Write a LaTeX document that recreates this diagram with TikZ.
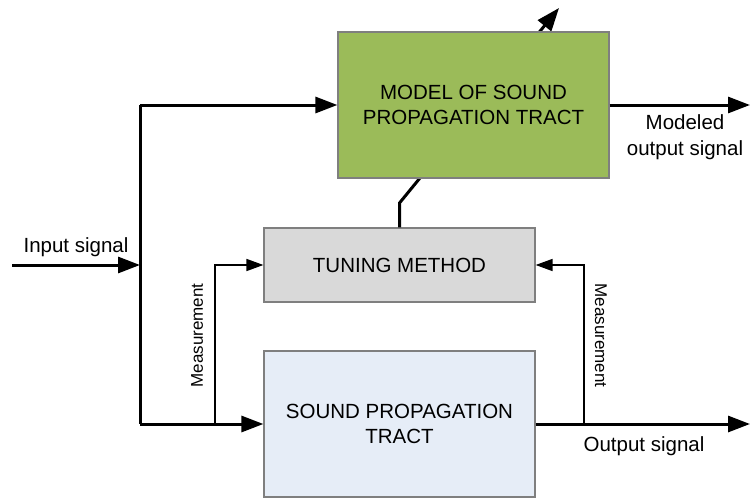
\documentclass[tikz,border=0pt]{standalone}
\usepackage{fontspec}
\setmainfont{Liberation Sans}
\usetikzlibrary{arrows.meta}
\definecolor{modelgreen}{HTML}{9BBB59}
\definecolor{tunegrey}{HTML}{D9D9D9}
\definecolor{soundblue}{HTML}{E6EDF7}
\definecolor{boxborder}{HTML}{7F7F7F}
\tikzset{
  blockbox/.style={draw=boxborder, line width=1.2pt, minimum width=271pt, inner sep=0pt, align=center, font=\fontsize{20.5}{25}\selectfont},
  bigline/.style={line width=3pt},
  bigarrow/.style={line width=3pt, -{Triangle[length=22pt,width=16pt]}},
  smallarrow/.style={line width=1.6pt, -{Triangle[length=17pt,width=12pt]}},
  smallline/.style={line width=1.6pt},
  lbl/.style={inner sep=0pt, align=center, font=\fontsize{20.5}{26}\selectfont},
  measlbl/.style={inner sep=0pt, font=\fontsize{17}{20}\selectfont},
}
\begin{document}
\begin{tikzpicture}[x=1pt,y=-1pt]
\useasboundingbox (0,0) rectangle (750,498);
% tuning box
\node[blockbox, fill=tunegrey, minimum height=74pt] (tuning) at (399.5,265) {TUNING METHOD};
% adjustment line (behind model box)
\coordinate (bend) at (399.5,203);
\coordinate (adjtip) at (559,8);
\draw[bigline, -{Triangle[length=23pt,width=17pt]}] (tuning.north) -- (bend) -- (adjtip);
% model box
\node[blockbox, fill=modelgreen, minimum height=146pt] (model) at (473.5,105) {MODEL OF SOUND\\PROPAGATION TRACT};
% sound propagation tract
\node[blockbox, fill=soundblue, minimum height=146pt] (sound) at (399.5,424) {SOUND PROPAGATION\\TRACT};
% coordinates
\coordinate (in) at (12,265);
\coordinate (jin) at (140,265);
\coordinate (jtop) at (140,105);
\coordinate (jbot) at (140,424);
\coordinate (mleft) at (215,424);
\coordinate (mright) at (584,424);
\coordinate (outend) at (750,424);
\coordinate (modend) at (750,105);
% connectors
\draw[bigarrow] (in) -- (jin);
\draw[bigline] (jtop) -- (jbot);
\draw[bigarrow] (jtop) -- (model.west);
\draw[bigarrow] (jbot) -- (sound.west);
\draw[bigarrow] (model.east) -- (modend);
\draw[bigarrow] (sound.east) -- (outend);
\draw[smallarrow] (mleft) |- (tuning.west);
\draw[smallarrow] (mright) |- (tuning.east);
% labels
\node[lbl, anchor=base] (inlbl) at (76,252) {Input signal};
\node[lbl] (modlbl) at (685,137) {Modeled\\output signal};
\node[lbl, anchor=base] (outlbl) at (644,451) {Output signal};
\node[measlbl, rotate=90] (meas1) at (197,335.5) {Measurement};
\node[measlbl, rotate=-90] (meas2) at (601,335.5) {Measurement};
\end{tikzpicture}
\end{document}
